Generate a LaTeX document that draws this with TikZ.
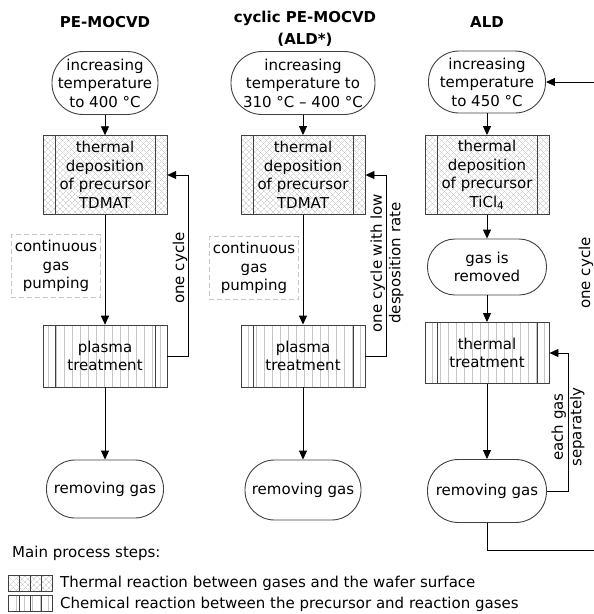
\documentclass[tikz,border=0pt]{standalone}
\usepackage{fontspec}
\setmainfont{DejaVu Sans}
\usetikzlibrary{arrows.meta, patterns.meta}
\newcommand{\fs}{\fontsize{15}{18.5}\selectfont}

\begin{document}
\begin{tikzpicture}[x=1pt,y=-1pt,
  font=\fs,
  every node/.style={align=center},
  stadium/.style={draw=black!75,line width=.9pt,rounded corners=#1,inner sep=1pt},
  stadium/.default=30pt,
  hatchfill/.style={preaction={pattern={Lines[angle=45,distance=4pt,line width=.45pt]},pattern color=gray!50},
    pattern={Lines[angle=-45,distance=4pt,line width=.45pt]},pattern color=gray!50},
  linefill/.style={pattern={Lines[angle=90,distance=8pt,line width=.6pt]},pattern color=gray!45},
  sidebars/.style={path picture={\draw[black!75,line width=.9pt]
      ([xshift=12pt]path picture bounding box.north west) -- ([xshift=12pt]path picture bounding box.south west)
      ([xshift=-12pt]path picture bounding box.north east) -- ([xshift=-12pt]path picture bounding box.south east);}},
  stepbox/.style={draw=black!75,line width=.9pt,minimum width=124pt,inner sep=1pt,sidebars},
  thermbox/.style={stepbox,hatchfill},
  chembox/.style={stepbox,linefill},
  pumpbox/.style={draw=gray!45,dash pattern=on 5pt off 3pt,line width=.9pt,minimum width=88pt,minimum height=63pt},
  keybox/.style={draw=black!75,line width=.8pt,minimum width=44pt,minimum height=16pt,inner sep=0pt,
    path picture={\foreach \dx in {11,22,33}
      \draw[black!75,line width=.8pt] ([xshift=\dx pt]path picture bounding box.north west) -- ([xshift=\dx pt]path picture bounding box.south west);}},
  flow/.style={-{Triangle[length=9pt,width=8pt]},line width=.9pt},
  cycleline/.style={line width=.9pt},
  title/.style={font=\fs\bfseries}]

\useasboundingbox (0,0) rectangle (594,614);

% PE-MOCVD
\node[title] (t1) at (105,22) {PE-MOCVD};
\node[stadium=31pt,minimum width=106pt,minimum height=63pt] (s1) at (105,83) {increasing\\temperature\\to 400 °C};
\node[thermbox,minimum height=79pt] (d1) at (105,175) {thermal\\deposition\\of precursor\\TDMAT};
\node[pumpbox] (p1) at (56,266) {continuous\\gas\\pumping};
\node[chembox,minimum height=62pt] (c1) at (105,356) {plasma\\treatment};
\node[stadium=28.5pt,minimum width=117pt,minimum height=58pt] (r1) at (105,489) {removing gas};

\draw[flow] (s1) -- (d1);
\draw[flow] (d1) -- (c1);
\draw[flow] (c1) -- (r1);
\draw[flow] (c1.east) -- ++(21,0) |- (d1.east);
\node[rotate=90] (n1) at (180,268) {one cycle};

% cyclic PE-MOCVD
\node[title] (t2) at (305,29) {cyclic PE-MOCVD\\[3pt](ALD*)};
\node[stadium=31pt,minimum width=144pt,minimum height=63pt] (s2) at (303,83) {increasing\\temperature to\\310 °C – 400 °C};
\node[thermbox,minimum height=79pt] (d2) at (303,175) {thermal\\deposition\\of precursor\\TDMAT};
\node[pumpbox] (p2) at (254,268) {continuous\\gas\\pumping};
\node[chembox,minimum height=62pt] (c2) at (303,356) {plasma\\treatment};
\node[stadium=29.5pt,minimum width=116pt,minimum height=60pt] (r2) at (303,490) {removing gas};

\draw[flow] (s2) -- (d2);
\draw[flow] (d2) -- (c2);
\draw[flow] (c2) -- (r2);
\draw[flow] (c2.east) -- ++(21,0) |- (d2.east);
\node[rotate=90] (n2) at (387,263) {one cycle with low\\desposition rate};

% ALD
\node[title] (t3) at (487,22) {ALD};
\node[stadium=30.5pt,minimum width=117pt,minimum height=62pt] (s3) at (487,82) {increasing\\temperature\\to 450 °C};
\node[thermbox,minimum height=79pt] (d3) at (487,175) {thermal\\deposition\\of precursor\\TiCl\textsubscript{4}};
\node[stadium=27.5pt,minimum width=119pt,minimum height=56pt] (g3) at (487,267) {gas is\\removed};
\node[chembox,minimum height=61pt] (c3) at (487,353) {thermal\\treatment};
\node[stadium=31pt,minimum width=119pt,minimum height=63pt] (r3) at (487,491) {removing gas};
\coordinate (e1) at (594,550);
\coordinate (e2) at (594,82);

\draw[flow] (s3) -- (d3);
\draw[flow] (d3) -- (g3);
\draw[flow] (g3) -- (c3);
\draw[flow] (c3) -- (r3);
\draw[flow] (r3.east) -- ++(21,0) |- (c3.east);
\node[rotate=90] (n3) at (568,427) {each gas\\separately};
\draw[cycleline] (r3.south) |- (e1);
\draw[flow] (e2) -- (s3.east);
\node[rotate=90] (n4) at (586,273) {one cycle};

% legend
\node[anchor=west,inner sep=0pt] (lg) at (12,553) {Main process steps:};
\node[keybox,hatchfill] (k1) at (30,583) {};
\node[anchor=west,inner sep=0pt] (k1t) at (60,583) {Thermal reaction between gases and the wafer surface};
\node[keybox,linefill] (k2) at (30,603) {};
\node[anchor=west,inner sep=0pt] (k2t) at (60,604) {Chemical reaction between the precursor and reaction gases};

\end{tikzpicture}
\end{document}
